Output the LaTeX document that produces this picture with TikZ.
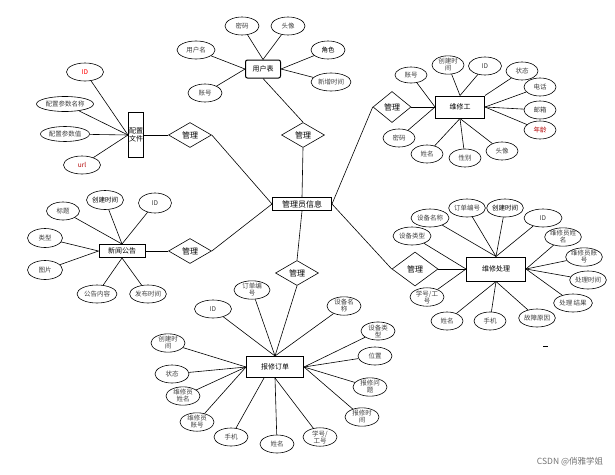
\documentclass[tikz,border=0pt]{standalone}
\usepackage{fontspec}
\setmainfont{Noto Sans CJK SC}
\usetikzlibrary{shapes.geometric}
\begin{document}
\begin{tikzpicture}[x=1pt,y=-1pt,line width=0.6pt,
  attr/.style={ellipse,draw,inner sep=0pt,minimum width=34pt,minimum height=18pt,
    font=\fontsize{6.5}{7}\selectfont,text=black!75,align=center},
  ent/.style={rectangle,draw,line width=1pt,inner sep=0.5pt,align=center,
    font=\fontsize{7}{8}\selectfont},
  rel/.style={diamond,draw,inner sep=0pt,minimum width=43pt,minimum height=25pt,
    font=\fontsize{8}{9}\selectfont}]
 \useasboundingbox (0,0) rectangle (615,474);
 % 实体与联系
 \node[ent,minimum width=59pt,minimum height=13pt,font=\fontsize{8}{9}\selectfont] (gly) at (302,204) {管理员信息};
 \node[rel] (r1) at (303,135) {管理};
 \node[rel] (r2) at (190,135) {管理};
 \node[rel] (r3) at (190,251) {管理};
 \node[rel] (r4) at (297,273) {管理};
 \node[rel,minimum width=38pt,minimum height=31pt] (r5) at (392,107) {管理};
 \node[rel,minimum width=46pt,minimum height=34pt] (r6) at (415,269) {管理};
 \node[ent,rounded corners=2pt,minimum width=35pt,minimum height=18pt] (yhb) at (263,69) {用户表};
 \node[ent,minimum width=15pt,minimum height=45pt] (pz) at (136,135) {配置\\文件};
 \node[ent,minimum width=49pt,minimum height=22pt] (wxg) at (460,107) {维修工};
 \node[ent,minimum width=46pt,minimum height=13pt] (xw) at (122,251) {新闻公告};
 \node[ent,minimum width=59pt,minimum height=24pt] (cl) at (496,269) {维修处理};
 \node[ent,minimum width=57pt,minimum height=21pt] (dd) at (275,367) {报修订单};
 \draw (gly.north) -- (r1.south); \draw (r1.north) -- (yhb.south);
 \draw (gly.west) -- (r2.east); \draw (r2.west) -- (pz.east);
 \draw (gly.west) -- (r3.east); \draw (r3.west) -- (xw.east);
 \draw (gly.south) -- (r4.north); \draw (r4.south) -- (dd.north);
 \draw (gly.east) -- (r5.west); \draw (r5.east) -- (wxg.west);
 \draw (gly.east) -- (r6.west); \draw (r6.east) -- (cl.west);
 % 用户表
 \node[attr] (u1) at (242,26) {密码};
 \node[attr] (u2) at (288,26) {头像};
 \node[attr,minimum width=38pt] (u3) at (196,50) {用户名};
 \node[attr,text=black] (u4) at (328,50) {角色};
 \node[attr,minimum width=40pt] (u5) at (331,82) {新增时间};
 \node[attr] (u6) at (205,93) {账号};
 \foreach \a/\p in {u1/north,u2/north,u3/west,u6/west,u4/east,u5/east}
  \draw (\a) -- (yhb.\p);
 % 配置文件
 \node[attr,minimum width=37pt,text=red] (p1) at (85,72) {ID};
 \node[attr,minimum width=57pt,minimum height=15pt] (p2) at (65,104) {配置参数名称};
 \node[attr,minimum width=49pt,minimum height=15pt] (p3) at (65,134) {配置参数值};
 \node[attr,minimum width=37pt,text=red!70!black] (p4) at (82,165) {url};
 \foreach \a in {p1,p2,p3,p4}
  \draw (\a) -- (pz.west);
 % 维修工
 \node[attr,minimum width=32pt,minimum height=16pt] (w1) at (411,75) {账号};
 \node[attr,minimum width=32pt] (w2) at (448,65) {创建时\\间};
 \node[attr,minimum width=33pt] (w3) at (485,66) {ID};
 \node[attr,minimum width=32pt] (w4) at (522,71) {状态};
 \node[attr,minimum width=32pt] (w5) at (540,87) {电话};
 \node[attr,minimum width=32pt] (w6) at (540,110) {邮箱};
 \node[attr,minimum width=32pt,text=red!70!black] (w7) at (540,130) {年龄};
 \node[attr,minimum width=32pt] (w8) at (502,151) {头像};
 \node[attr,minimum width=32pt] (w9) at (465,158) {性别};
 \node[attr,minimum width=32pt] (w10) at (427,154) {姓名};
 \node[attr,minimum width=32pt] (w11) at (399,138) {密码};
 \foreach \a/\p in {w1/west,w2/north,w3/north,w4/north east,w5/east,w6/east,w7/east,
   w8/south,w9/south,w10/south,w11/west}
  \draw (\a) -- (wxg.\p);
 % 新闻公告
 \node[attr,minimum width=33pt] (x1) at (63,211) {标题};
 \node[attr,minimum width=37pt,minimum height=19pt,text=black] (x2) at (105,200) {创建时间};
 \node[attr,minimum width=33pt,minimum height=20pt] (x3) at (155,203) {ID};
 \node[attr,minimum width=35pt,minimum height=19pt] (x4) at (45,238) {类型};
 \node[attr,minimum width=35pt,minimum height=19pt] (x5) at (45,270) {图片};
 \node[attr,minimum width=40pt] (x6) at (97,294) {公告内容};
 \node[attr,minimum width=36pt] (x7) at (148,294) {发布时间};
 \foreach \a/\p in {x1/north,x2/north,x3/north,x4/west,x5/west,x6/south,x7/south}
  \draw (\a) -- (xw.\p);
 % 维修处理
 \node[attr,minimum width=38pt] (c1) at (430,218) {设备名称};
 \node[attr,minimum width=36pt] (c2) at (467,208) {订单编号};
 \node[attr,minimum width=36pt,text=black] (c3) at (505,208) {创建时间};
 \node[attr,minimum width=38pt] (c4) at (543,218) {ID};
 \node[attr] (c5) at (563,237) {维修员姓\\名};
 \node[attr] (c6) at (584,257) {维修员账\\号};
 \node[attr] (c7) at (588,280) {处理时间};
 \node[attr,minimum width=36pt] (c8) at (573,303) {处理 结果};
 \node[attr,minimum width=36pt] (c9) at (537,318) {故障原因};
 \node[attr,minimum width=32pt] (c10) at (490,321) {手机};
 \node[attr,minimum width=32pt] (c11) at (447,321) {姓名};
 \node[attr] (c12) at (427,297) {学号/工\\号};
 \node[attr,minimum width=38pt] (c13) at (412,236) {设备类型};
 \foreach \a/\p in {c1/north,c2/north,c3/north,c4/north,c5/east,c6/east,c7/east,c8/east,
   c9/south,c10/south,c11/south,c12/west,c13/west}
  \draw (\a) -- (cl.\p);
 % 报修订单
 \node[attr,minimum width=37pt] (d1) at (213,309) {ID};
 \node[attr,minimum width=36pt] (d2) at (252,290) {订单编\\号};
 \node[attr] (d3) at (344,306) {设备名\\称};
 \node[attr] (d4) at (378,331) {设备类\\型};
 \node[attr] (d5) at (375,356) {位置};
 \node[attr] (d6) at (370,387) {报修问\\题};
 \node[attr] (d7) at (362,417) {报修时\\间};
 \node[attr] (d8) at (320,437) {学号/\\工号};
 \node[attr] (d9) at (277,444) {姓名};
 \node[attr] (d10) at (231,437) {手机};
 \node[attr] (d11) at (197,422) {维修员\\账号};
 \node[attr] (d12) at (183,396) {维修员\\姓名};
 \node[attr] (d13) at (172,374) {状态};
 \node[attr] (d14) at (168,343) {创建时\\间};
 \foreach \a/\p in {d1/north,d2/north,d3/north,d4/east,d5/east,d6/east,d7/east,
   d8/south,d9/south,d10/225,d11/west,d12/west,d13/west,d14/west}
  \draw (\a) -- (dd.\p);
 \draw (543,346) -- (548,346);
 \node[text=black!55,font=\fontsize{8.5}{9}\selectfont] (wm) at (570,462) {CSDN @俏雅学姐};
\end{tikzpicture}
\end{document}
